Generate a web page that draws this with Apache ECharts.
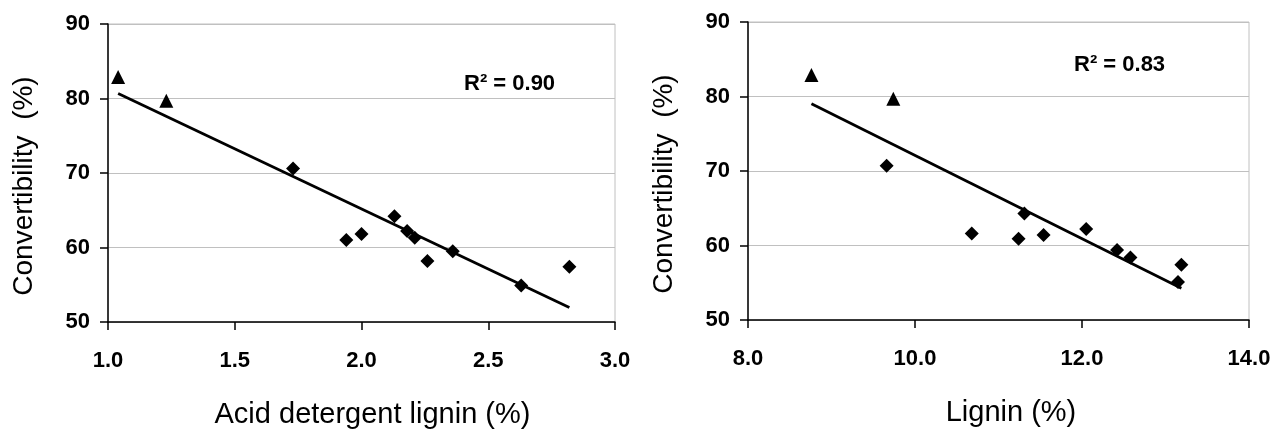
<!DOCTYPE html>
<html>
<head>
<meta charset="utf-8">
<script src="https://cdn.jsdelivr.net/npm/echarts@6/dist/echarts.min.js"></script>
<style>
  html, body { margin: 0; padding: 0; background: #fff; }
  #chart { width: 1278px; height: 429px; }
</style>
</head>
<body>
<div id="chart"></div>
<script>
// left panel: acid detergent lignin vs convertibility
const adlTriX = [1.04, 1.23];
const adlTriY = [82.9, 79.7];
const adlDiaX = [1.73, 1.94, 2.00, 2.13, 2.18, 2.21, 2.26, 2.36, 2.63, 2.82];
const adlDiaY = [70.6, 61.0, 61.8, 64.2, 62.2, 61.3, 58.2, 59.5, 54.9, 57.4];

// right panel: lignin vs convertibility
const ligTriX = [8.76, 9.74];
const ligTriY = [82.9, 79.7];
const ligDiaX = [9.66, 10.68, 11.24, 11.31, 11.54, 12.05, 12.42, 12.58, 13.15, 13.19];
const ligDiaY = [70.7, 61.6, 60.9, 64.3, 61.4, 62.2, 59.4, 58.4, 55.1, 57.4];

const yTicks = [50, 60, 70, 80, 90];
const adlTicks = [1.0, 1.5, 2.0, 2.5, 3.0];
const ligTicks = [8.0, 10.0, 12.0, 14.0];
const r2Labels = ['R² = 0.90', 'R² = 0.83'];

const FONT = "'Liberation Sans', Arial, sans-serif";

function pairs(xs, ys) {
  return xs.map((x, i) => [x, ys[i]]);
}

// least squares fit drawn from smallest to largest x
function trend(xs, ys) {
  const n = xs.length;
  const mx = xs.reduce((a, b) => a + b, 0) / n;
  const my = ys.reduce((a, b) => a + b, 0) / n;
  let sxy = 0, sxx = 0;
  for (let i = 0; i < n; i++) {
    sxy += (xs[i] - mx) * (ys[i] - my);
    sxx += (xs[i] - mx) * (xs[i] - mx);
  }
  const b = sxy / sxx;
  const a = my - b * mx;
  const lo = Math.min(...xs), hi = Math.max(...xs);
  return [[lo, a + b * lo], [hi, a + b * hi]];
}

function xAxisOf(idx, ticks, name, pad) {
  return {
    type: 'value',
    gridIndex: idx,
    min: ticks[0],
    max: ticks[ticks.length - 1],
    interval: ticks[1] - ticks[0],
    name: name,
    nameLocation: 'middle',
    nameGap: 78,
    nameTextStyle: { fontFamily: FONT, fontSize: 29, color: '#000', padding: [0, 0, 0, pad] },
    axisLine: { show: true, onZero: false, lineStyle: { color: '#000', width: 1.5 } },
    axisTick: { show: true, length: 8, lineStyle: { color: '#000', width: 1.5 } },
    axisLabel: {
      margin: 28,
      fontFamily: FONT, fontSize: 22, fontWeight: 'bold', color: '#000',
      formatter: v => v.toFixed(1)
    },
    splitLine: { show: false }
  };
}

function yAxisOf(idx) {
  return {
    type: 'value',
    gridIndex: idx,
    min: yTicks[0],
    max: yTicks[yTicks.length - 1],
    interval: 10,
    name: 'Convertibility  (%)',
    nameLocation: 'middle',
    nameGap: 70,
    nameTextStyle: { fontFamily: FONT, fontSize: 28, color: '#000', padding: [0, 26, 0, 0] },
    axisLine: { show: true, onZero: false, lineStyle: { color: '#000', width: 1.5 } },
    axisTick: { show: true, length: 8, lineStyle: { color: '#000', width: 1.5 } },
    axisLabel: { margin: 18, fontFamily: FONT, fontSize: 22, fontWeight: 'bold', color: '#000' },
    splitLine: { show: true, lineStyle: { color: '#c0c0c0', width: 1 } }
  };
}

function seriesOf(idx, tx, ty, dx, dy) {
  return [{
    type: 'scatter', xAxisIndex: idx, yAxisIndex: idx,
    symbol: 'triangle', symbolSize: 14,
    itemStyle: { color: '#000', opacity: 1 },
    data: pairs(tx, ty)
  }, {
    type: 'scatter', xAxisIndex: idx, yAxisIndex: idx,
    symbol: 'diamond', symbolSize: 14,
    itemStyle: { color: '#000', opacity: 1 },
    data: pairs(dx, dy)
  }, {
    type: 'line', xAxisIndex: idx, yAxisIndex: idx,
    symbol: 'none', silent: true,
    lineStyle: { color: '#000', width: 2.8 },
    data: trend(tx.concat(dx), ty.concat(dy))
  }];
}

var chart = echarts.init(document.getElementById('chart'), null, { renderer: 'canvas' });

var option = {
  animation: false,
  backgroundColor: '#fff',
  grid: [
    { left: 108, top: 24, width: 507, height: 298, outerBoundsMode: 'none', show: true, borderColor: '#c0c0c0', borderWidth: 1 },
    { left: 748, top: 22, width: 501, height: 298, outerBoundsMode: 'none', show: true, borderColor: '#c0c0c0', borderWidth: 1 }
  ],
  xAxis: [
    xAxisOf(0, adlTicks, 'Acid detergent lignin (%)', 22),
    xAxisOf(1, ligTicks, 'Lignin (%)', 25)
  ],
  yAxis: [yAxisOf(0), yAxisOf(1)],
  series: seriesOf(0, adlTriX, adlTriY, adlDiaX, adlDiaY)
    .concat(seriesOf(1, ligTriX, ligTriY, ligDiaX, ligDiaY)),
  graphic: [
    { type: 'text', left: 464, top: 73, style: { text: r2Labels[0], font: 'bold 22px ' + FONT, fill: '#000' } },
    { type: 'text', left: 1074, top: 54, style: { text: r2Labels[1], font: 'bold 22px ' + FONT, fill: '#000' } }
  ]
};

chart.setOption(option);
</script>
</body>
</html>
